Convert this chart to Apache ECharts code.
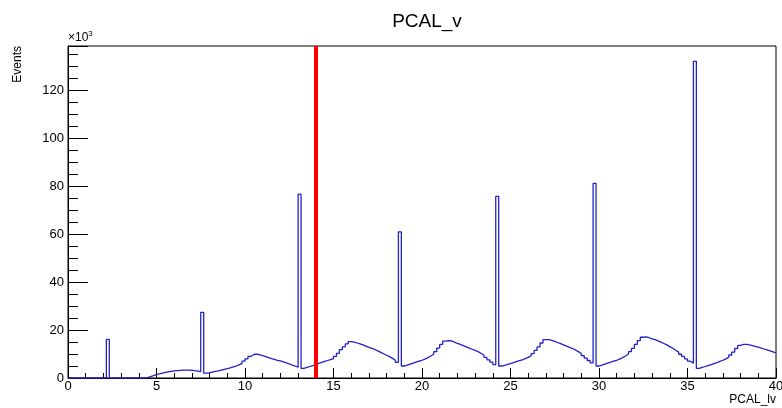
<!DOCTYPE html>
<html>
<head>
<meta charset="utf-8">
<title>PCAL_v</title>
<script src="https://cdn.jsdelivr.net/npm/echarts@6/dist/echarts.min.js"></script>
<style>
  html, body { margin: 0; padding: 0; background: #fff; }
  #chart { width: 782px; height: 408px; }
</style>
</head>
<body>
<div id="chart"></div>
<script>
// histogram range and bin contents (events, in units of 10^3), 1/6 wide bins
const xMin = 0;
const xMax = 40;
const yMax = 138.5;
const cutValue = 14;
const xTicks = [0, 5, 10, 15, 20, 25, 30, 35, 40];
const yTicks = [0, 20, 40, 60, 80, 100, 120];
const eventsK = [
  0, 0, 0, 0, 0, 0,
  0, 0, 0, 0, 0, 0,
  0, 16.1, 0, 0, 0, 0,
  0, 0, 0, 0, 0, 0,
  0, 0, 0.2, 0.6, 1.0, 1.4,
  1.7, 2.0, 2.3, 2.6, 2.8, 3.0,
  3.1, 3.2, 3.3, 3.3, 3.3, 3.2,
  3.1, 2.9, 2.7, 27.4, 2.0, 2.2,
  2.5, 2.8, 3.0, 3.3, 3.6, 3.9,
  4.2, 4.6, 5.0, 5.5, 6.1, 7.0,
  8.0, 9.0, 9.8, 10.0, 9.7, 9.3,
  8.9, 8.5, 8.1, 7.8, 7.4, 7.1,
  6.7, 6.3, 5.9, 5.4, 5.0, 4.5,
  76.7, 4.0, 4.4, 4.8, 5.2, 5.7,
  6.1, 6.5, 6.9, 7.3, 7.7, 8.1,
  9.0, 10.3, 11.8, 13.0, 14.2, 15.2,
  15.0, 14.6, 14.2, 13.8, 13.3, 12.8,
  12.4, 11.9, 11.3, 10.7, 10.1, 9.5,
  8.9, 8.2, 7.4, 6.5, 61.0, 5.0,
  5.4, 5.8, 6.2, 6.6, 7.0, 7.4,
  7.9, 8.5, 9.2, 10.0, 11.0, 12.5,
  14.0, 15.4, 15.6, 15.5, 15.0, 14.4,
  14.0, 13.5, 13.0, 12.5, 12.0, 11.5,
  11.0, 10.3, 9.5, 8.6, 7.6, 6.6,
  5.6, 75.8, 5.0, 5.3, 5.7, 6.0,
  6.4, 6.8, 7.2, 7.6, 8.1, 8.6,
  9.3, 10.2, 11.5, 13.0, 14.6, 16.0,
  16.0, 15.7, 15.3, 14.8, 14.3, 13.8,
  13.3, 12.8, 12.3, 11.7, 11.0, 10.2,
  9.3, 8.3, 7.3, 6.3, 81.2, 5.0,
  5.4, 5.8, 6.2, 6.6, 7.0, 7.4,
  7.9, 8.5, 9.2, 10.0, 11.0, 12.4,
  14.0, 15.6, 17.0, 17.2, 16.8, 16.3,
  16.0, 15.5, 15.0, 14.4, 13.8, 13.1,
  12.4, 11.6, 10.8, 9.9, 9.0, 8.0,
  7.0, 6.2, 132.1, 4.0, 4.4, 4.8,
  5.2, 5.6, 6.0, 6.4, 6.9, 7.4,
  8.0, 8.7, 9.6, 10.8, 12.3, 13.6,
  14.0, 14.0, 13.8, 13.5, 13.2, 12.9,
  12.5, 12.1, 11.7, 11.3, 10.9, 10.5
];

const binWidth = (xMax - xMin) / eventsK.length;
// step outline: left edge of each bin, plus the right edge of the last one
const outline = eventsK.map((v, i) => [xMin + i * binWidth, v]);
outline.push([xMax, eventsK[eventsK.length - 1]]);

const font = 'Liberation Sans, Arial, Helvetica, sans-serif';
const chart = echarts.init(document.getElementById('chart'));

chart.setOption({
  animation: false,
  backgroundColor: '#fff',
  title: {
    text: 'PCAL_v',
    left: 422,
    top: 7,
    textAlign: 'center',
    textStyle: { fontFamily: font, fontSize: 19, fontWeight: 'normal', color: '#000' }
  },
  grid: {
    left: 68, right: 6, top: 46, bottom: 30,
    outerBoundsMode: 'none',
    containLabel: false,
    show: true, borderColor: '#000', borderWidth: 1
  },
  xAxis: {
    type: 'value',
    min: xMin, max: xMax, interval: 5,
    axisLine: { show: true, lineStyle: { color: '#000', width: 1 } },
    axisTick: { show: true, inside: true, length: 10, lineStyle: { color: '#000' } },
    minorTick: { show: true, splitNumber: 5, length: 5, lineStyle: { color: '#000' } },
    splitLine: { show: false },
    axisLabel: {
      margin: 2, color: '#000', fontFamily: font, fontSize: 13,
      showMaxLabel: true,
      formatter: v => xTicks.includes(v) ? String(v) : ''
    }
  },
  yAxis: {
    type: 'value',
    min: 0, max: yMax, interval: 20,
    axisLine: { show: true, lineStyle: { color: '#000', width: 1 } },
    axisTick: { show: true, inside: true, length: 20, lineStyle: { color: '#000' } },
    minorTick: { show: true, splitNumber: 4, length: 10, lineStyle: { color: '#000' } },
    splitLine: { show: false },
    axisLabel: {
      margin: 4, color: '#000', fontFamily: font, fontSize: 13,
      showMaxLabel: false,
      formatter: v => yTicks.includes(v) ? String(v) : ''
    }
  },
  graphic: [
    {
      type: 'text', x: 68, y: 38,
      style: {
        text: '×10{s|3}',
        rich: { s: { fontSize: 8, verticalAlign: 'top', padding: [0, 0, 8, 0], fontFamily: font, fill: '#000' } },
        fontFamily: font, fontSize: 12, fill: '#000',
        verticalAlign: 'middle'
      }
    },
    {
      type: 'text', x: 18, y: 46, rotation: Math.PI / 2,
      style: {
        text: 'Events', fontFamily: font, fontSize: 12, fill: '#000',
        align: 'right', verticalAlign: 'middle'
      }
    },
    {
      type: 'text', x: 776, y: 400,
      style: {
        text: 'PCAL_lv', fontFamily: font, fontSize: 12, fill: '#000',
        align: 'right', verticalAlign: 'middle'
      }
    }
  ],
  series: [
    {
      name: 'PCAL_v',
      type: 'line',
      step: 'end',
      data: outline,
      showSymbol: false,
      symbol: 'none',
      clip: true,
      lineStyle: { color: '#2222c0', width: 1.3 },
      markLine: {
        silent: true,
        symbol: 'none',
        label: { show: false },
        lineStyle: { color: '#ff0000', width: 4, type: 'solid' },
        data: [{ xAxis: cutValue }]
      }
    }
  ]
});
</script>
</body>
</html>
